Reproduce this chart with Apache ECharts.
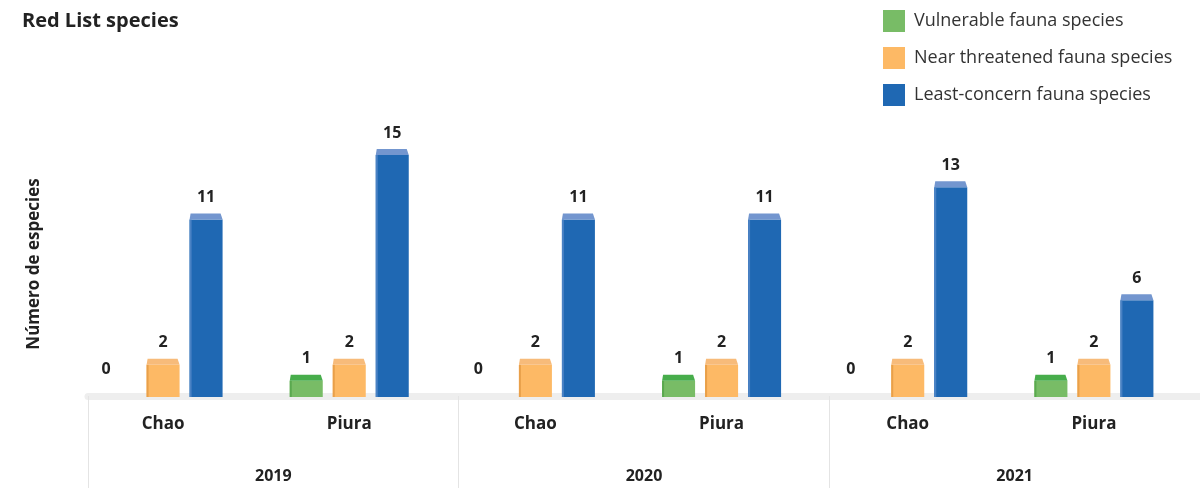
<!DOCTYPE html>
<html>
<head>
<meta charset="utf-8">
<script src="https://cdn.jsdelivr.net/npm/echarts@6/dist/echarts.min.js"></script>
<style>html,body{margin:0;padding:0;background:#fff;}#c{width:1200px;height:488px;}</style>
</head>
<body>
<div id="c"></div>
<script>
const categories = ['Chao','Piura','Chao','Piura','Chao','Piura'];
const years = ['2019','2020','2021'];
const seriesNames = ['Vulnerable fauna species','Near threatened fauna species','Least-concern fauna species'];
const vulnerable = [0,1,0,1,0,1];
const nearThreatened = [2,2,2,2,2,2];
const leastConcern = [11,15,11,11,13,6];

const FONT = "'Open Sans', sans-serif";
const palettes = [
  {body:'#78bc66', top:'#47ad4b', side:'#5aa94f'},
  {body:'#fdb965', top:'#f7bb7a', side:'#e9a04a'},
  {body:'#1f68b3', top:'#7396cf', side:'#4a82c4'}
];
const SPACING = 43, BW = 33, DEPTH = 6;

function makeRender(idx){
  const pal = palettes[idx];
  return function(params, api){
    const ci = api.value(0), v = api.value(1);
    const basePt = api.coord([ci, 0]);
    const topPt = api.coord([ci, v]);
    const cx = basePt[0] + (idx-1)*SPACING;
    const L = cx - BW/2, R = cx + BW/2;
    const base = basePt[1], top = topPt[1];
    const children = [];
    if (v > 0) {
      children.push({type:'rect', shape:{x:L, y:top, width:BW, height:base-top}, style:{fill:pal.body}});
      children.push({type:'rect', shape:{x:L, y:top, width:2, height:base-top}, style:{fill:pal.side}});
      children.push({type:'polygon', shape:{points:[[L+1,top-DEPTH],[R-2,top-DEPTH],[R,top],[L,top]]}, style:{fill:pal.top}});
      children.push({type:'text', style:{text:String(v), x:cx, y:top-DEPTH-8, align:'center', verticalAlign:'bottom', fill:'#222', font:'bold 16px ' + FONT}});
    } else {
      children.push({type:'text', style:{text:String(v), x:cx-14, y:base-20, align:'center', verticalAlign:'bottom', fill:'#222', font:'bold 16px ' + FONT}});
    }
    return {type:'group', children};
  };
}

const dataSets = [vulnerable, nearThreatened, leastConcern];
const series = dataSets.map((arr, i) => ({
  name: seriesNames[i],
  type: 'custom',
  xAxisIndex: 0, yAxisIndex: 0,
  itemStyle: {color: palettes[i].body},
  encode: {x:0, y:1},
  renderItem: makeRender(i),
  data: arr.map((v, k) => [k, v]),
  z: 3
}));

const chart = echarts.init(document.getElementById('c'));
chart.setOption({
  animation: false,
  textStyle: {fontFamily: FONT},
  title: {text:'Red List species', left:17, top:6, textStyle:{fontSize:20, fontWeight:'bold', color:'#222', fontFamily:FONT}},
  legend: {
    orient:'vertical', left:878, top:5, itemWidth:22, itemHeight:22, itemGap:15,
    icon:'rect', data: seriesNames,
    textStyle:{fontSize:18, color:'#333', fontFamily:FONT, padding:[0,0,0,4]}
  },
  grid: [
    {left:70, right:13, top:155, bottom:91},
    {left:88, right:0, top:155, bottom:92}
  ],
  xAxis: [
    {type:'category', gridIndex:0, data:categories, axisLine:{show:false}, axisTick:{show:false},
     axisLabel:{margin:19, fontSize:17, fontWeight:'bold', color:'#222', fontFamily:FONT}},
    {type:'category', gridIndex:1, data:years, z:0,
     axisLine:{show:true, lineStyle:{color:'#eeeeee', width:7}},
     axisTick:{show:true, inside:false, length:92, interval:0, lineStyle:{color:'#e4e4e4', width:1}},
     axisLabel:{margin:72, fontSize:16, fontWeight:'bold', color:'#222', fontFamily:FONT}}
  ],
  yAxis: [
    {type:'value', gridIndex:0, min:0, max:15, axisLine:{show:false}, axisTick:{show:false}, axisLabel:{show:false}, splitLine:{show:false},
     name:'Número de especies', nameLocation:'middle', nameRotate:90, nameGap:27,
     nameTextStyle:{fontSize:17, fontWeight:'bold', color:'#222', fontFamily:FONT, padding:[0,0,0,24]}},
    {type:'value', gridIndex:1, min:0, max:15, show:false}
  ],
  series: series
});
</script>
</body>
</html>
